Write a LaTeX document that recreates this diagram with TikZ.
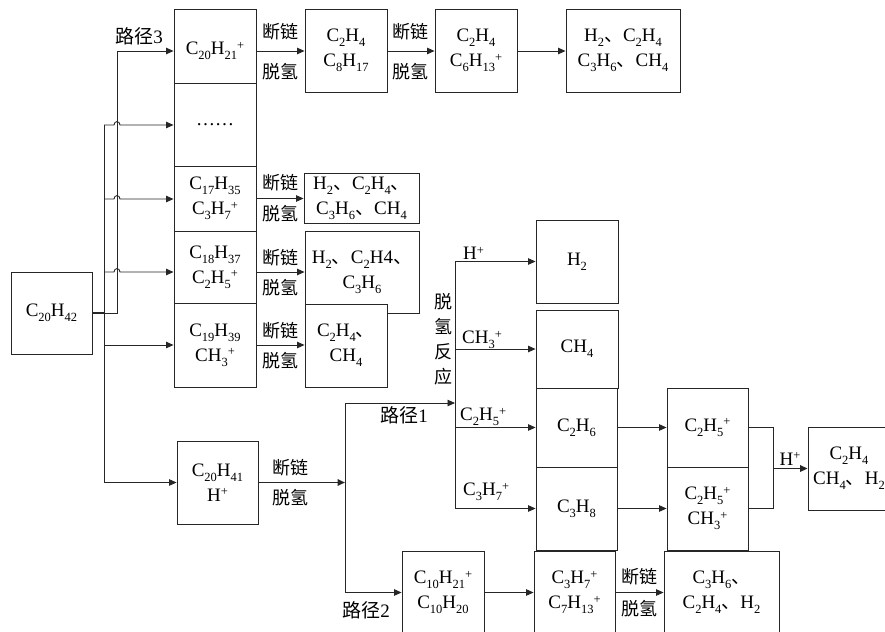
\documentclass[tikz,border=0pt]{standalone}
\usepackage{fontspec}
\setmainfont{Liberation Serif}
\newfontfamily\cjk{Noto Sans CJK SC}
\usetikzlibrary{arrows.meta}
\newcommand\sbs[1]{\raisebox{-0.25em}{\fontsize{12.5}{12.5}\selectfont #1}}
\newcommand\sps[1]{\raisebox{0.3em}{\fontsize{12.5}{12.5}\selectfont #1}}
\newcommand\dunhao{{\cjk 、}}
\begin{document}
\begin{tikzpicture}[x=1pt,y=-1pt,
  every node/.style={font=\fontsize{19}{25}\selectfont, inner sep=0pt},
  box/.style={draw=black!85, fill=white, line width=0.9pt, align=center},
  bx/.style n args={2}{box, minimum width=#1, minimum height=#2},
  ln/.style={draw=black!85, line width=0.9pt},
  arr/.style={ln, -{Triangle[length=7.5pt,width=6.5pt]}},
  heavy/.style={line width=1.8pt},
  zh/.style={font=\cjk\fontsize{18}{25}\selectfont, align=center},
  mix/.style={font=\fontsize{19}{25}\selectfont}
]
\useasboundingbox (0,0) rectangle (885,631);
\clip (0,0) rectangle (885,631);

% ---- boxes, left column
\node[bx={81}{82}] (c2042) at (51.5,313) {C\sbs{20}H\sbs{42}};
\node[bx={82}{74}] (a1) at (215,46) {};
\node (a1t) at (215,51) {C\sbs{20}H\sbs{21}\sps{+}};
\node[bx={82}{83}] (a2) at (215,124.5) {……};
\node[bx={82}{65}] (a3) at (215,198.5) {C\sbs{17}H\sbs{35}\\C\sbs{3}H\sbs{7}\sps{+}};
\node[bx={82}{72}] (a4) at (215,267) {C\sbs{18}H\sbs{37}\\C\sbs{2}H\sbs{5}\sps{+}};
\node[bx={82}{84}] (a5) at (215,345) {C\sbs{19}H\sbs{39}\\CH\sbs{3}\sps{+}};

% ---- top row
\node[bx={82}{83}] (b1) at (346,50.5) {C\sbs{2}H\sbs{4}\\C\sbs{8}H\sbs{17}};
\node[bx={82}{83}] (b2) at (476,50.5) {C\sbs{2}H\sbs{4}\\C\sbs{6}H\sbs{13}\sps{+}};
\node[bx={114}{83}] (b3) at (623,50.5) {H\sbs{2}\dunhao C\sbs{2}H\sbs{4}\\C\sbs{3}H\sbs{6}\dunhao CH\sbs{4}};

% ---- right of left column
\node[bx={115}{50}] (r3) at (361.5,198) {H\sbs{2}\dunhao C\sbs{2}H\sbs{4}\dunhao\\C\sbs{3}H\sbs{6}\dunhao CH\sbs{4}};
\node[bx={114}{82}] (r4) at (362,272) {H\sbs{2}\dunhao C\sbs{2}H4\dunhao\\C\sbs{3}H\sbs{6}};
\node[bx={82}{83}] (r5) at (346,345.5) {C\sbs{2}H\sbs{4}\dunhao\\CH\sbs{4}};

% ---- lower part
\node[bx={81}{83}] (c2041) at (217.5,482.5) {C\sbs{20}H\sbs{41}\\H\sps{+}};
\node[bx={82}{83}] (h2box) at (577,261.5) {H\sbs{2}};
\node[bx={82}{78}] (ch4box) at (577,349) {CH\sbs{4}};
\node[bx={81}{79}] (c2h6) at (576.5,427.5) {C\sbs{2}H\sbs{6}};
\node[bx={81}{83}] (c3h8) at (576.5,508.5) {C\sbs{3}H\sbs{8}};
\node[bx={81}{79}] (e1) at (707.5,427.5) {C\sbs{2}H\sbs{5}\sps{+}};
\node[bx={81}{83}] (e2) at (707.5,508.5) {C\sbs{2}H\sbs{5}\sps{+}\\CH\sbs{3}\sps{+}};
\node[bx={82}{83}] (fin) at (849,468.5) {C\sbs{2}H\sbs{4}\\CH\sbs{4}\dunhao H\sbs{2}};
\node[bx={82}{83}] (c10) at (443,592.5) {C\sbs{10}H\sbs{21}\sps{+}\\C\sbs{10}H\sbs{20}};
\node[bx={81}{83}] (c37) at (574.5,592.5) {C\sbs{3}H\sbs{7}\sps{+}\\C\sbs{7}H\sbs{13}\sps{+}};
\node[bx={115}{83}] (c36) at (721.5,592.5) {C\sbs{3}H\sbs{6}\dunhao\\C\sbs{2}H\sbs{4}\dunhao H\sbs{2}};

% ---- left connectors
\coordinate (j0) at (104,313);
\coordinate (j1) at (117,313);
\coordinate (jtop) at (104,125);
\draw[ln,heavy] (c2042.east) -- (j0);
\draw[arr] (j0) -- (j1) -- (j1 |- a1t) -- (a1.west |- a1t);
\draw[ln] (jtop) -- (j0 |- c2041.west);
\foreach \yy/\tgt in {125/a2, 199/a3, 272/a4}{
  \coordinate (hh) at (0,\yy);
  \draw[arr] (j0 |- hh) -- (114,\yy) .. controls (114,\yy-4.5) and (120,\yy-4.5) .. (120,\yy) -- (\tgt.west |- hh);
}
\draw[arr] (j0 |- a5.west) -- (a5.west);
\draw[arr] (j0 |- c2041.west) -- (c2041.west);
\node[mix] (p3) at (139,36) {{\cjk 路径}3};

% ---- top row connectors
\draw[arr] (a1.east |- a1t) -- (b1.west |- a1t);
\node[zh] (l1a) at (280,32) {断链};
\node[zh] (l1b) at (280,72) {脱氢};
\draw[arr] (b1.east |- a1t) -- (b2.west |- a1t);
\node[zh] (l2a) at (410,32) {断链};
\node[zh] (l2b) at (410,72) {脱氢};
\draw[arr] (b2.east |- a1t) -- (b3.west |- a1t);

\draw[arr] (a3.east) -- (r3.west |- a3.east);
\node[zh] (l3a) at (280,183) {断链};
\node[zh] (l3b) at (280,214) {脱氢};
\draw[arr] (a4.east |- r4.west) -- (r4.west);
\node[zh] (l4a) at (280,258) {断链};
\node[zh] (l4b) at (280,288) {脱氢};
\draw[arr] (a5.east) -- (r5.west |- a5.east);
\node[zh] (l5a) at (280,331) {断链};
\node[zh] (l5b) at (280,361) {脱氢};

% ---- lower connectors
\coordinate (k) at (345,482.5);
\coordinate (p1) at (345,403);
\coordinate (p2) at (345,592.5);
\coordinate (q1) at (455,403);
\coordinate (q0) at (455,262);
\draw[arr,heavy] (c2041.east) -- (k);
\node[zh] (l6a) at (290,468) {断链};
\node[zh] (l6b) at (290,498) {脱氢};
\draw[ln] (p1) -- (p2);
\draw[arr] (p1) -- (q1);
\draw[arr] (p2) -- (c10.west);
\node[mix] (p1l) at (404,415) {{\cjk 路径}1};
\node[mix] (p2l) at (366,610) {{\cjk 路径}2};

\draw[ln] (q0 |- h2box) -- (q0 |- c3h8);
\draw[arr] (q0 |- h2box) -- (h2box.west);
\draw[arr] (q0 |- ch4box) -- (ch4box.west);
\draw[arr] (q0 |- c2h6) -- (c2h6.west);
\draw[arr] (q0 |- c3h8) -- (c3h8.west);
\node[anchor=south west] (lh) at (463,260) {H\sps{+}};
\node[anchor=south west] (lch3) at (462,349) {CH\sbs{3}\sps{+}};
\node[anchor=south west] (lc2) at (460,426) {C\sbs{2}H\sbs{5}\sps{+}};
\node[anchor=south west] (lc3) at (463,501) {C\sbs{3}H\sbs{7}\sps{+}};
\node[zh] (tq) at (443,339) {脱\\氢\\反\\应};

\draw[arr] (c2h6.east) -- (e1.west);
\draw[arr] (c3h8.east) -- (e2.west);
\coordinate (m1) at (773,427.5);
\draw[ln] (e1.east) -- (m1) -- (m1 |- e2.east) -- (e2.east);
\draw[arr,heavy] (m1 |- fin.west) -- (fin.west);
\node (lhp) at (790,459) {H\sps{+}};

\draw[arr] (c10.east) -- (c37.west);
\draw[arr] (c37.east) -- (c36.west);
\node[zh] (l7a) at (639,577) {断链};
\node[zh] (l7b) at (639,609) {脱氢};
\end{tikzpicture}
\end{document}
